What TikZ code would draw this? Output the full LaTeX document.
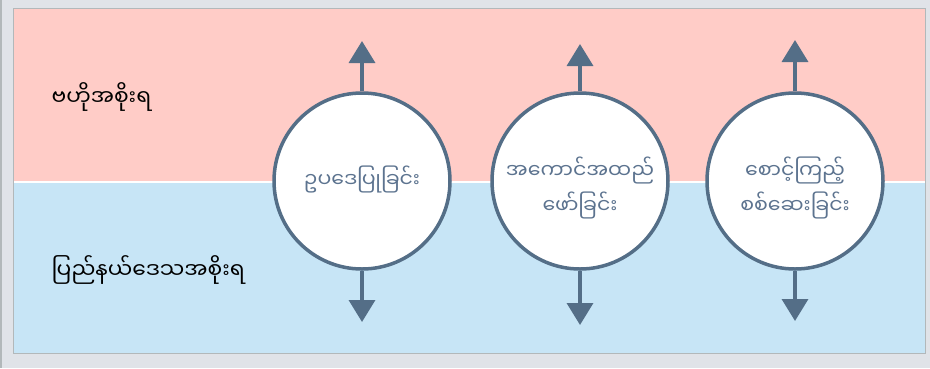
\documentclass[tikz,border=0pt]{standalone}
\usepackage{fontspec}
\newfontfamily\myan[Script=Myanmar]{Noto Sans Myanmar UI}
\usetikzlibrary{arrows.meta, positioning, shapes.geometric}
\definecolor{screen}{rgb}{0.88,0.89,0.91}
\definecolor{frame}{rgb}{0.70,0.72,0.73}
\definecolor{pinkband}{rgb}{1.0,0.80,0.78}
\definecolor{blueband}{rgb}{0.78,0.90,0.965}
\definecolor{slate}{rgb}{0.33,0.43,0.53}
\definecolor{slatetext}{rgb}{0.36,0.45,0.56}

\tikzset{
	branch/.style={draw=slate, line width=3.5pt, fill=white, circle, minimum size=176pt, inner sep=0pt},
	branchtext/.style={align=center, inner sep=0pt, text=slatetext, font=\myan\fontsize{20.5}{35}\selectfont},
	tier/.style={anchor=west, font=\myan\fontsize{21.8}{24}\selectfont, text=black},
	push/.style={slate, line width=3.5pt, arrows={-Triangle[length=22pt, width=26pt]}}
}

\begin{document}
\begin{tikzpicture}[x=1pt, y=-1pt]
		\useasboundingbox (0,0) rectangle (930,368);
		\fill[screen] (0,0) rectangle (930,368);
		\fill[frame] (0,0) rectangle (2,368);
		
		%----------------------------------------------------------------
		\fill[pinkband] (13,8) rectangle (925,180.5);
		\fill[white] (13,180.5) rectangle (925,183);
		\fill[blueband] (13,183) rectangle (925,353);
		\draw[frame, line width=1pt] (13,8) rectangle (925,353);
		
		%----------------------------------------------------------------
		\node(central) [tier] at (48,97) {ဗဟိုအစိုးရ};
		\node(state) [tier] at (48,270) {ပြည်နယ်ဒေသအစိုးရ};
		
		%----------------------------------------------------------------
		\node(legis) [branch] at (362,181) {};
		\node(exec) [branch] at (580,181) {};
		\node(watch) [branch] at (795,181) {};
		
		\node(legis-text) [branchtext] at ([yshift=2pt]legis.center) {ဥပဒေပြုခြင်း};
		\node(exec-text) [branchtext] at ([yshift=-7pt]exec.center) {အကောင်အထည်\\ဖော်ခြင်း};
		\node(watch-text) [branchtext] at ([yshift=-7pt]watch.center) {စောင့်ကြည့်\\စစ်ဆေးခြင်း};
		
		\coordinate (legis-up) at (362,41);
		\coordinate (legis-down) at (362,322);
		\coordinate (exec-up) at (580,44);
		\coordinate (exec-down) at (580,325);
		\coordinate (watch-up) at (795,40);
		\coordinate (watch-down) at (795,321);
		
		%----------------------------------------------------------------
		\draw [push] (legis.north) -- (legis-up);
		\draw [push] (legis.south) -- (legis-down);
		\draw [push] (exec.north) -- (exec-up);
		\draw [push] (exec.south) -- (exec-down);
		\draw [push] (watch.north) -- (watch-up);
		\draw [push] (watch.south) -- (watch-down);
		
	\end{tikzpicture}
\end{document}
